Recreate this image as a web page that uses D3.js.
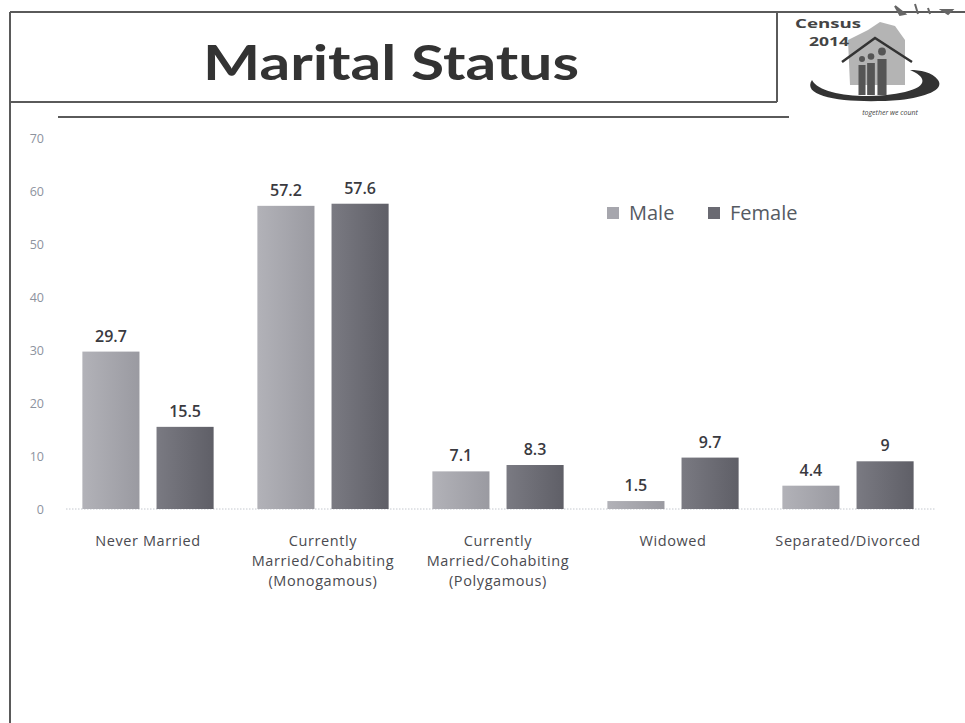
<!DOCTYPE html>
<html>
<head>
<meta charset="utf-8">
<script src="https://cdn.jsdelivr.net/npm/d3@7"></script>
<style>
  html, body { margin: 0; padding: 0; background: #fff; }
  svg { display: block; }
</style>
</head>
<body>
<svg id="chart" width="965" height="723"></svg>
<script>
const categories = [
  ["Never Married"],
  ["Currently", "Married/Cohabiting", "(Monogamous)"],
  ["Currently", "Married/Cohabiting", "(Polygamous)"],
  ["Widowed"],
  ["Separated/Divorced"]
];
const seriesNames = ["Male", "Female"];
const maleValues = [29.7, 57.2, 7.1, 1.5, 4.4];
const femaleValues = [15.5, 57.6, 8.3, 9.7, 9];
const yTicks = [0, 10, 20, 30, 40, 50, 60, 70];
const title = "Marital Status";

const svg = d3.select("#chart");
const font = "'Open Sans', 'Liberation Sans', sans-serif";

// gradients
const defs = svg.append("defs");
const gradMale = defs.append("linearGradient").attr("id", "gMale").attr("x1", 0).attr("x2", 1).attr("y1", 0).attr("y2", 0);
gradMale.append("stop").attr("offset", 0).attr("stop-color", "#b2b2b8");
gradMale.append("stop").attr("offset", 1).attr("stop-color", "#9a9aa1");
const gradFemale = defs.append("linearGradient").attr("id", "gFemale").attr("x1", 0).attr("x2", 1).attr("y1", 0).attr("y2", 0);
gradFemale.append("stop").attr("offset", 0).attr("stop-color", "#7a7a82");
gradFemale.append("stop").attr("offset", 1).attr("stop-color", "#5f5f67");
const fills = ["url(#gMale)", "url(#gFemale)"];
const legendFills = ["#a6a6ad", "#6a6a72"];

// slide frame
const frame = svg.append("g").attr("stroke", "#5a5a5a").attr("stroke-width", 2).attr("fill", "none");
frame.append("line").attr("x1", 10).attr("y1", 12).attr("x2", 965).attr("y2", 12);
frame.append("line").attr("x1", 10).attr("y1", 12).attr("x2", 10).attr("y2", 723);
frame.append("line").attr("x1", 777).attr("y1", 12).attr("x2", 777).attr("y2", 102);
frame.append("line").attr("x1", 10).attr("y1", 102).attr("x2", 777).attr("y2", 102);
frame.append("line").attr("x1", 58).attr("y1", 117).attr("x2", 789).attr("y2", 117);

// title
svg.append("text")
  .attr("x", 391).attr("y", 80)
  .attr("text-anchor", "middle")
  .attr("font-family", "Lato, 'Open Sans', sans-serif")
  .attr("font-weight", "bold")
  .attr("font-size", 48)
  .attr("fill", "#333")
  .attr("textLength", 376)
  .attr("lengthAdjust", "spacingAndGlyphs")
  .text(title);

// logo (approximation)
const logo = svg.append("g");
logo.append("path")
  .attr("d", "M848,40 L868,30 L880,22 L895,26 L905,40 L905,85 L850,85 Z")
  .attr("fill", "#b4b4b4");
logo.append("path")
  .attr("d", "M842,62 L875,38 L912,62")
  .attr("fill", "none").attr("stroke", "#333").attr("stroke-width", 2.5);
[[862, 70, 5], [871, 68, 5.5], [882, 64, 6.5]].forEach(([cx, cy, r]) => {
  logo.append("circle").attr("cx", cx).attr("cy", cy - r - 6).attr("r", r * 0.6).attr("fill", "#555");
  logo.append("rect").attr("x", cx - r * 0.7).attr("y", cy - 5).attr("width", r * 1.4).attr("height", 100 - cy).attr("fill", "#555");
});
logo.append("path")
  .attr("d", "M812,80 C800,98 850,104 900,100 C925,97 945,90 938,80 C932,72 920,70 910,70 C925,76 930,86 905,92 C870,100 820,96 812,80 Z")
  .attr("fill", "#333");
logo.append("text").attr("x", 828).attr("y", 28).attr("text-anchor", "middle")
  .attr("font-family", font).attr("font-weight", "bold").attr("font-size", 13).attr("fill", "#444")
  .attr("textLength", 66).attr("lengthAdjust", "spacingAndGlyphs").text("Census");
logo.append("text").attr("x", 829).attr("y", 46).attr("text-anchor", "middle")
  .attr("font-family", font).attr("font-weight", "bold").attr("font-size", 13).attr("fill", "#444")
  .attr("textLength", 40).attr("lengthAdjust", "spacingAndGlyphs").text("2014");
logo.append("text").attr("x", 890).attr("y", 115).attr("text-anchor", "middle")
  .attr("font-family", font).attr("font-style", "italic").attr("font-size", 7).attr("fill", "#444").text("together we count");
logo.append("path").attr("d", "M895,6 L905,14 L900,15 Z M915,4 L918,14 M928,8 L930,14 M942,10 L952,10 L948,14 Z")
  .attr("fill", "#666").attr("stroke", "#666").attr("stroke-width", 2);

// scales
const x0 = d3.scaleBand()
  .domain(d3.range(categories.length))
  .range([60.5, 935.5])
  .paddingInner(0.25)
  .paddingOuter(0.125);
const x1 = d3.scaleBand()
  .domain(seriesNames)
  .range([0, x0.bandwidth()])
  .paddingInner(0.23);
const y = d3.scaleLinear().domain([0, 70]).range([509, 138]);

// y axis labels
const yAxis = d3.axisLeft(y).tickValues(yTicks).tickSize(0).tickPadding(0);
const yg = svg.append("g").attr("transform", "translate(44,0)").call(yAxis);
yg.select(".domain").remove();
yg.selectAll("text")
  .attr("font-family", font)
  .attr("font-size", 12.5)
  .attr("fill", "#8d939e");

// baseline dotted
svg.append("line")
  .attr("x1", 66).attr("x2", 936)
  .attr("y1", y(0)).attr("y2", y(0))
  .attr("stroke", "#c4c8cf").attr("stroke-width", 1)
  .attr("stroke-dasharray", "1.5,1.5");

// bars
const data = categories.map((c, i) => ({ i, values: [maleValues[i], femaleValues[i]] }));
const groups = svg.append("g").selectAll("g").data(data).join("g")
  .attr("transform", d => `translate(${x0(d.i)},0)`);

groups.selectAll("rect").data(d => d.values.map((v, k) => ({ k, v }))).join("rect")
  .attr("x", d => x1(seriesNames[d.k]))
  .attr("y", d => y(d.v))
  .attr("width", x1.bandwidth())
  .attr("height", d => y(0) - y(d.v))
  .attr("fill", d => fills[d.k]);

groups.selectAll("text.val").data(d => d.values.map((v, k) => ({ k, v }))).join("text")
  .attr("class", "val")
  .attr("x", d => x1(seriesNames[d.k]) + x1.bandwidth() / 2)
  .attr("y", d => y(d.v) - 10)
  .attr("text-anchor", "middle")
  .attr("font-family", font)
  .attr("font-weight", 600)
  .attr("font-size", 16)
  .attr("fill", "#3a3a3f")
  .text(d => d.v);

// category labels
const xAxis = d3.axisBottom(x0).tickSize(0).tickFormat(() => "");
svg.append("g").attr("transform", `translate(0,${y(0)})`).call(xAxis).select(".domain").remove();

const catG = svg.append("g");
data.forEach(d => {
  const t = catG.append("text")
    .attr("x", x0(d.i) + x0.bandwidth() / 2)
    .attr("y", 546)
    .attr("text-anchor", "middle")
    .attr("font-family", font)
    .attr("font-size", 14.5)
    .attr("letter-spacing", 0.6)
    .attr("fill", "#4a4a50");
  categories[d.i].forEach((line, j) => {
    t.append("tspan").attr("x", x0(d.i) + x0.bandwidth() / 2).attr("dy", j === 0 ? 0 : 20).text(line);
  });
});

// legend
const legend = svg.append("g");
const legendX = [607, 708];
seriesNames.forEach((name, k) => {
  legend.append("rect").attr("x", legendX[k]).attr("y", 207).attr("width", 12).attr("height", 12).attr("fill", legendFills[k]);
  legend.append("text").attr("x", legendX[k] + 22).attr("y", 220)
    .attr("font-family", font).attr("font-size", 20).attr("fill", "#555a62").text(name);
});
</script>
</body>
</html>
